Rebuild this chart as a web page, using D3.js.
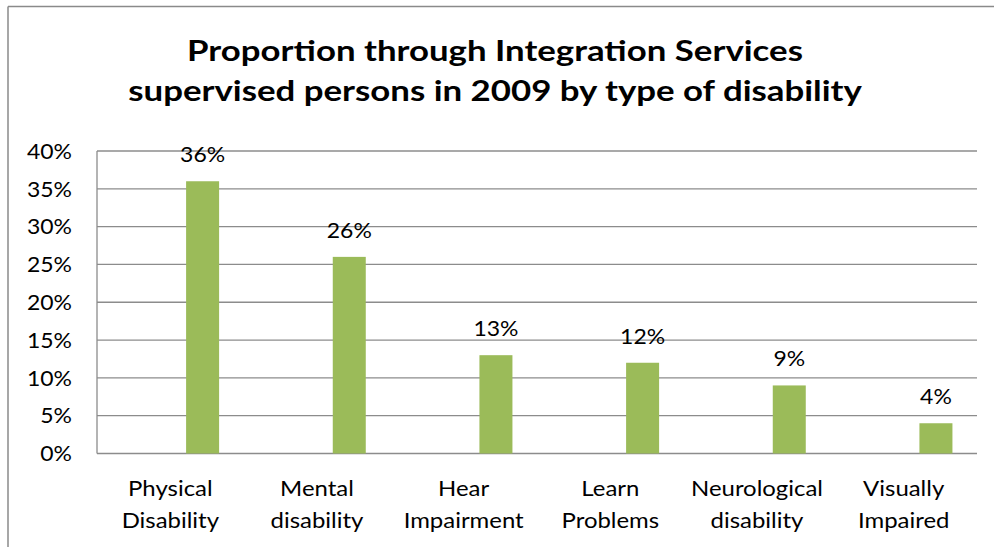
<!DOCTYPE html>
<html>
<head>
<meta charset="utf-8">
<script src="https://cdn.jsdelivr.net/npm/d3@7"></script>
<style>
  html, body { margin: 0; padding: 0; background: #fff; }
  svg { display: block; }
  text { font-family: Lato, "Open Sans", sans-serif; fill: #000; }
</style>
</head>
<body>
<svg id="chart" width="994" height="547"></svg>
<script>
// Chart data
const titleLines = ["Proportion through Integration Services", "supervised persons in 2009 by type of disability"];
const categories = [["Physical", "Disability"], ["Mental", "disability"], ["Hear", "Impairment"], ["Learn", "Problems"], ["Neurological", "disability"], ["Visually", "Impaired"]];
const values = [36, 26, 13, 12, 9, 4];
const yTicks = [0, 5, 10, 15, 20, 25, 30, 35, 40];

const W = 994, H = 547;
const SX = 1.14; // horizontal text stretch
const plot = { left: 97, right: 977, top: 151, bottom: 453.5 };

const svg = d3.select("#chart");

// outer frame (top and left edges)
svg.append("line").attr("x1", 8).attr("x2", W).attr("y1", 6.5).attr("y2", 6.5)
  .attr("stroke", "#8a8a8a").attr("stroke-width", 1.5);
svg.append("line").attr("x1", 8).attr("x2", 8).attr("y1", 6.5).attr("y2", H)
  .attr("stroke", "#8a8a8a").attr("stroke-width", 1.5);

function txt(x, y, s, size, anchor, weight, sx) {
  return svg.append("text")
    .attr("transform", `translate(${x},${y}) scale(${sx || SX},1)`)
    .attr("text-anchor", anchor || "middle")
    .attr("font-size", size)
    .attr("font-weight", weight || "normal")
    .text(s);
}

// title: stretched so each line spans the chart's heading width
const titleY = [61, 101];
titleLines.forEach((t, i) => {
  const el = txt(495, titleY[i], t, 28.5, "middle", "bold", 1);
  const w = el.node().getComputedTextLength();
  const target = i === 0 ? 616 : 734;
  el.attr("transform", `translate(495,${titleY[i]}) scale(${target / w},1)`);
});

const x = d3.scaleBand().domain(d3.range(categories.length)).range([plot.left, plot.right]);
const y = d3.scaleLinear().domain([0, 40]).range([plot.bottom, plot.top]);

// gridlines
svg.append("g").selectAll("line").data(yTicks).join("line")
  .attr("x1", plot.left).attr("x2", plot.right)
  .attr("y1", d => y(d)).attr("y2", d => y(d))
  .attr("stroke", "#8c8c8c").attr("stroke-width", 1.3);

// y axis line
svg.append("line").attr("x1", plot.left).attr("x2", plot.left)
  .attr("y1", y(40)).attr("y2", y(0)).attr("stroke", "#8c8c8c").attr("stroke-width", 1.3);

// y tick labels
yTicks.forEach(t => txt(72, y(t) + 7.8, t + "%", 20.5, "end", "normal", 1.12));

// bars (sit in the right part of each category slot)
const bw = x.bandwidth();
const barW = bw * 0.225;
const barOffset = bw * 0.72;
svg.append("g").selectAll("rect").data(values).join("rect")
  .attr("x", (d, i) => x(i) + barOffset - barW / 2)
  .attr("y", d => y(d))
  .attr("width", barW)
  .attr("height", d => y(0) - y(d))
  .attr("fill", "#9bbb59");

// value labels
values.forEach((v, i) => txt(x(i) + barOffset, y(v) - 19, v + "%", 20.5, "middle", "normal", 1.12));

// category labels
categories.forEach((lines, i) => {
  lines.forEach((l, j) => txt(x(i) + bw / 2, 496 + j * 32, l, 21, "middle"));
});
</script>
</body>
</html>
